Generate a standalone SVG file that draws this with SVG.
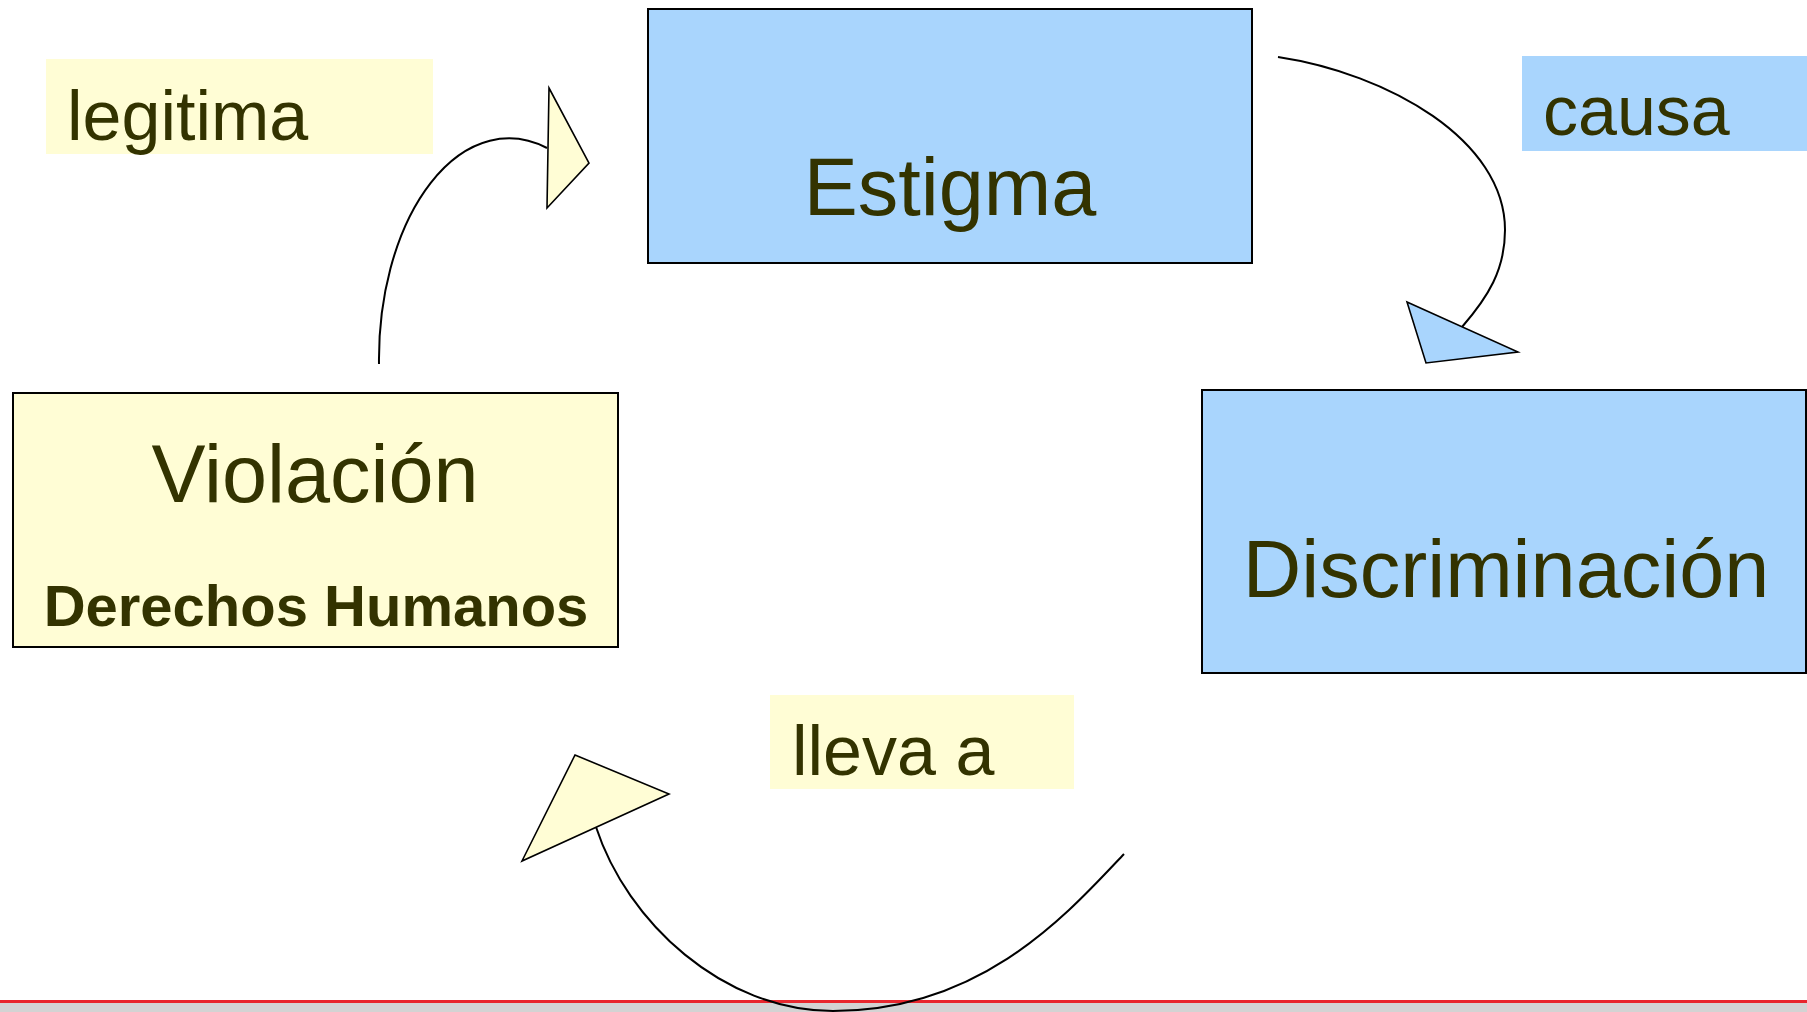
<svg xmlns="http://www.w3.org/2000/svg" width="1807" height="1012" viewBox="0 0 1807 1012">
<style>
.box{stroke:#000;stroke-width:2}
.blue{fill:#a9d5fd}
.yellow{fill:#fffdd5}
.t{font-family:"Liberation Sans",Arial,sans-serif;fill:#333300}
.big{font-size:81px}
.lab{font-size:70px}
.conn{fill:none;stroke:#000;stroke-width:2}
.head{stroke:#000;stroke-width:1.6;stroke-linejoin:miter}
</style>
<rect x="0" y="0" width="1807" height="1012" fill="#fff"/>
<rect x="0" y="1003" width="1807" height="9" fill="#d3d3d3"/>
<rect x="0" y="1000" width="1807" height="3" fill="#e8262d"/>
<g id="label-legitima">
<rect class="yellow" x="46" y="59" width="387" height="95"/>
<text class="t lab" x="67" y="140">legitima</text>
</g>
<g id="label-causa">
<rect class="blue" x="1522" y="56" width="285" height="95"/>
<text class="t lab" x="1543" y="135">causa</text>
</g>
<g id="label-lleva">
<rect class="yellow" x="770" y="695" width="304" height="94"/>
<text class="t lab" x="792" y="775">lleva a</text>
</g>
<g id="node-estigma">
<rect class="box blue" x="648" y="9" width="604" height="254"/>
<text class="t big" x="950" y="215" text-anchor="middle">Estigma</text>
</g>
<g id="node-discriminacion">
<rect class="box blue" x="1202" y="390" width="604" height="283"/>
<text class="t big" x="1506" y="597" text-anchor="middle">Discriminación</text>
</g>
<g id="node-violacion">
<rect class="box yellow" x="13" y="393" width="605" height="254"/>
<text class="t big" x="315" y="502" text-anchor="middle">Violación</text>
<text class="t" x="316" y="626" text-anchor="middle" font-size="58" font-weight="bold">Derechos Humanos</text>
</g>
<g id="connectors">
<path class="conn" d="M379,364 A130,221 0 0 1 547,148"/>
<polygon class="head yellow" points="549,88 589,163 547,208"/>
<path class="conn" d="M1278,57 C1388,73.5 1505,140 1505,230 C1505,270 1488,297 1462,327"/>
<polygon class="head blue" points="1407,302 1518,352 1426,363"/>
<path class="conn" d="M1124,854 C1069,912 983,1011 833,1011 C723,1011 627,922 596,827"/>
<polygon class="head yellow" points="575,755 669,794 522,861"/>
</g>
</svg>
